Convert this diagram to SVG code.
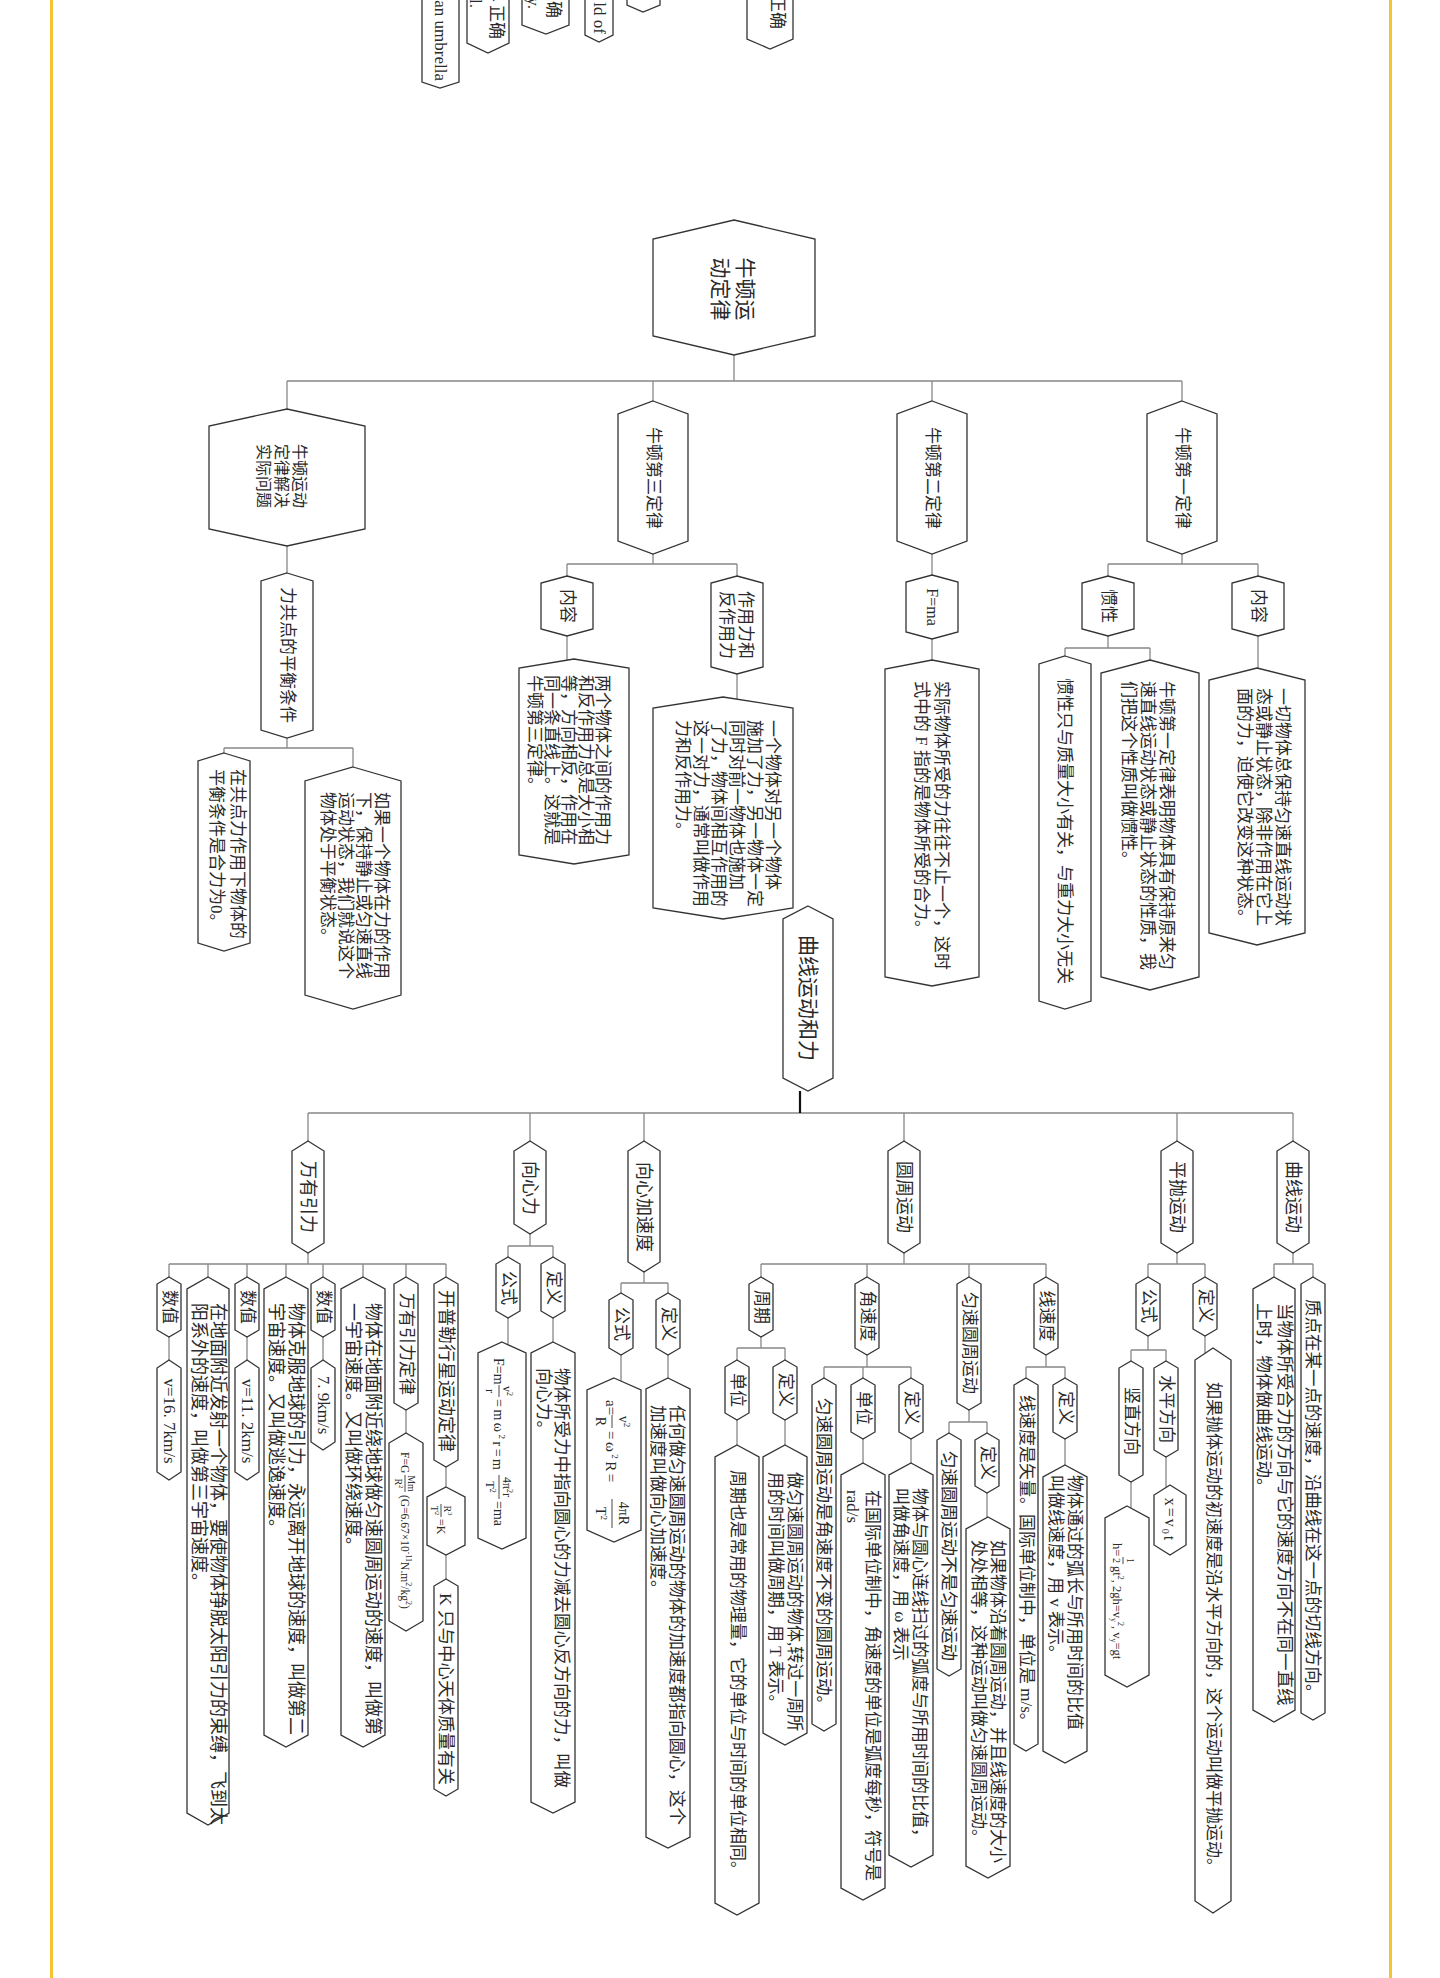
<svg xmlns="http://www.w3.org/2000/svg" width="1440" height="1978" viewBox="0 0 1440 1978">
<style>
.n{fill:#fff;stroke:#333;stroke-width:1.3}
.c{fill:none;stroke:#888;stroke-width:1.3}
.t{font-family:"Liberation Serif","Noto Sans CJK SC",serif;fill:#2a2a2a;dominant-baseline:central}
.m{text-anchor:middle}
.e{text-anchor:end}
.bar{stroke:#333;stroke-width:0.9}
</style>
<rect x="0" y="0" width="1440" height="1978" fill="#fff"/>
<rect x="50" y="0" width="3" height="1978" fill="#f5c430"/>
<rect x="1389" y="0" width="3" height="1978" fill="#f5c430"/>

<g id="fragments">
<polygon class="n" points="422,-10 459,-10 459,82 440,88 422,82"/>
<text class="t e" font-size="17" transform="translate(440,81) rotate(90)">an umbrella</text>
<polygon class="n" points="467,-10 509,-10 509,43 488,53 467,43"/>
<text class="t e" font-size="17" transform="translate(496,39) rotate(90)">→正确</text>
<text class="t e" font-size="17" transform="translate(475,8) rotate(90)">rl.</text>
<polygon class="n" points="522,-10 569,-10 569,25 546,34 522,25"/>
<text class="t e" font-size="17" transform="translate(553,18) rotate(90)">确</text>
<text class="t e" font-size="17" transform="translate(533,9) rotate(90)">y.</text>
<polygon class="n" points="585,-10 613,-10 613,35 599,42 585,35"/>
<text class="t e" font-size="17" transform="translate(599,34) rotate(90)">ld of</text>
<polygon class="n" points="627,-10 660,-10 660,5 643,12 627,5"/>
<polygon class="n" points="747,-10 793,-10 793,39 770,49 747,39"/>
<text class="t e" font-size="17" transform="translate(777,29) rotate(90)">正确</text>
</g>

<g id="connectors">
<path class="c" d="M734,355V381 M287,381H1182 M287,381V409 M653,381V401 M932,381V401 M1182,381V401
M287,546V573 M287,738V748 M224,748H353 M224,748V753 M353,748V767
M653,554V564 M567,564H737 M567,564V576 M737,564V576 M567,636V660 M737,674V699
M932,554V575 M932,639V660
M1182,554V564 M1108,564H1258 M1108,564V576 M1258,564V576 M1108,636V648 M1065,648H1150 M1065,648V656 M1150,648V660 M1258,636V668
M308,1113H1293 M308,1113V1141 M530,1113V1141 M644,1113V1141 M904,1113V1141 M1177,1113V1141 M1293,1113V1141
M308,1253V1264 M169,1264H446 M169,1264V1277 M208,1264V1277 M247,1264V1277 M286,1264V1277 M323,1264V1277 M363,1264V1277 M406,1264V1277 M446,1264V1277
M169,1337V1360 M247,1337V1360 M323,1337V1360 M406,1410V1433 M446,1467V1487 M446,1555V1579
M530,1234V1246 M508,1246H553 M508,1246V1257 M553,1246V1257 M508,1318V1345 M553,1318V1342
M644,1272V1283 M621,1283H668 M621,1283V1293 M668,1283V1293 M621,1355V1381 M668,1355V1378
M904,1253V1264 M761,1264H1046 M761,1264V1277 M867,1264V1277 M969,1264V1277 M1046,1264V1277
M761,1337V1348 M737,1348H785 M737,1348V1360 M785,1348V1360 M737,1420V1445 M785,1420V1445
M867,1355V1367 M824,1367H911 M824,1367V1378 M863,1367V1378 M911,1367V1378 M863,1439V1463 M911,1439V1463
M969,1410V1422 M949,1422H987 M949,1422V1433 M987,1422V1433 M987,1493V1517
M1046,1355V1367 M1026,1367H1065 M1026,1367V1378 M1065,1367V1378 M1065,1439V1465
M1177,1253V1264 M1148,1264H1205 M1148,1264V1277 M1205,1264V1277 M1205,1336V1360 M1148,1336V1350 M1131,1350H1166 M1131,1350V1361 M1166,1350V1361 M1166,1457V1487 M1131,1482V1508
M1293,1253V1264 M1274,1264H1313 M1274,1264V1277 M1313,1264V1277"/>
<path d="M800,1091V1113" stroke="#111" stroke-width="2.2" fill="none"/>
</g>

<g id="n-root"><polygon class="n" points="734,220 815,239 815,336 734,355 653,336 653,239"/>
<text class="t m" font-size="21" transform="translate(745,289) rotate(90)"><tspan x="0" y="0">牛顿运</tspan><tspan x="0" y="25">动定律</tspan></text></g>

<g id="n-shiji"><polygon class="n" points="287,409 365,426 365,529 287,546 209,529 209,426"/>
<text class="t m" font-size="16" transform="translate(300,476) rotate(90)"><tspan x="0" y="0">牛顿运动</tspan><tspan x="0" y="18">定律解决</tspan><tspan x="0" y="36">实际问题</tspan></text></g>
<g id="n-ligong"><polygon class="n" points="287,573 313,581 313,730 287,738 261,730 261,581"/>
<text class="t m" font-size="17" transform="translate(287,655) rotate(90)">力共点的平衡条件</text></g>
<g id="n-a"><polygon class="n" points="224,753 250,761 250,943 224,951 198,943 198,761"/>
<text class="t" font-size="17" transform="translate(238,769) rotate(90)"><tspan x="0" y="0">在共点力作用下物体的</tspan><tspan x="0" y="21">平衡条件是合力为0。</tspan></text></g>
<g id="n-b"><polygon class="n" points="353,767 401,781 401,995 353,1009 305,995 305,781"/>
<text class="t" font-size="17" transform="translate(382,792) rotate(90)"><tspan x="0" y="0">如果一个物体在力的作用</tspan><tspan x="0" y="18">下，保持静止或匀速直线</tspan><tspan x="0" y="36">运动状态，我们就说这个</tspan><tspan x="0" y="54">物体处于平衡状态。</tspan></text></g>

<g id="n-third"><polygon class="n" points="653,401 688,414 688,541 653,554 618,541 618,414"/>
<text class="t m" font-size="17" transform="translate(653,478) rotate(90)">牛顿第三定律</text></g>
<g id="n-third-nr"><polygon class="n" points="567,576 593,583 593,629 567,636 541,629 541,583"/>
<text class="t m" font-size="17" transform="translate(567,606) rotate(90)">内容</text></g>
<g id="n-third-text"><polygon class="n" points="574,659 629,668 629,855 574,864 519,855 519,668"/>
<text class="t" font-size="17" transform="translate(603,675) rotate(90)"><tspan x="0" y="0">两个物体之间的作用力</tspan><tspan x="0" y="17">和反作用力总是大小相</tspan><tspan x="0" y="34">等，方向相反，作用在</tspan><tspan x="0" y="51">同一条直线上。这就是</tspan><tspan x="0" y="68">牛顿第三定律。</tspan></text></g>
<g id="n-zuoyong"><polygon class="n" points="737,576 763,583 763,667 737,674 711,667 711,583"/>
<text class="t m" font-size="17" transform="translate(746,625) rotate(90)"><tspan x="0" y="0">作用力和</tspan><tspan x="0" y="19">反作用力</tspan></text></g>
<g id="n-zuoyong-text"><polygon class="n" points="723,697 793,708 793,908 723,919 653,908 653,708"/>
<text class="t" font-size="17" transform="translate(773,720) rotate(90)"><tspan x="0" y="0">一个物体对另一个物体</tspan><tspan x="0" y="18">施加了力，另一物体一定</tspan><tspan x="0" y="36">同时对前一物体也施加</tspan><tspan x="0" y="54">了力，物体间相互作用的</tspan><tspan x="0" y="72">这一对力，通常叫做作用</tspan><tspan x="0" y="90">力和反作用力。</tspan></text></g>

<g id="n-second"><polygon class="n" points="932,401 967,414 967,541 932,554 897,541 897,414"/>
<text class="t m" font-size="17" transform="translate(932,478) rotate(90)">牛顿第二定律</text></g>
<g id="n-fma"><polygon class="n" points="932,575 958,582 958,632 932,639 906,632 906,582"/>
<text class="t m" font-size="16" transform="translate(932,607) rotate(90)">F=ma</text></g>
<g id="n-second-text"><polygon class="n" points="932,660 979,669 979,977 932,986 885,977 885,669"/>
<text class="t" font-size="17" transform="translate(942,681) rotate(90)"><tspan x="0" y="0">实际物体所受的力往往不止一个，这时</tspan><tspan x="0" y="20">式中的 F 指的是物体所受的合力。</tspan></text></g>

<g id="n-quxianli"><polygon class="n" points="808,906 833,919 833,1078 808,1091 783,1078 783,919"/>
<text class="t m" font-size="21" transform="translate(808,998) rotate(90)">曲线运动和力</text></g>

<g id="n-first"><polygon class="n" points="1182,401 1217,414 1217,541 1182,554 1147,541 1147,414"/>
<text class="t m" font-size="17" transform="translate(1182,478) rotate(90)">牛顿第一定律</text></g>
<g id="n-guanxing"><polygon class="n" points="1108,576 1134,583 1134,629 1108,636 1082,629 1082,583"/>
<text class="t m" font-size="17" transform="translate(1108,606) rotate(90)">惯性</text></g>
<g id="n-first-nr"><polygon class="n" points="1258,576 1284,583 1284,629 1258,636 1232,629 1232,583"/>
<text class="t m" font-size="17" transform="translate(1258,606) rotate(90)">内容</text></g>
<g id="n-guanxing-a"><polygon class="n" points="1065,656 1091,664 1091,1001 1065,1009 1039,1001 1039,664"/>
<text class="t" font-size="17" transform="translate(1064,678) rotate(90)">惯性只与质量大小有关，与重力大小无关</text></g>
<g id="n-guanxing-b"><polygon class="n" points="1150,660 1199,673 1199,977 1150,990 1101,977 1101,673"/>
<text class="t" font-size="17" transform="translate(1167,681) rotate(90)"><tspan x="0" y="0">牛顿第一定律表明物体具有保持原来匀</tspan><tspan x="0" y="19">速直线运动状态或静止状态的性质，我</tspan><tspan x="0" y="38">们把这个性质叫做惯性。</tspan></text></g>
<g id="n-first-text"><polygon class="n" points="1257,668 1305,680 1305,933 1257,945 1209,933 1209,680"/>
<text class="t" font-size="17" transform="translate(1283,688) rotate(90)"><tspan x="0" y="0">一切物体总保持匀速直线运动状</tspan><tspan x="0" y="19">态或静止状态，除非作用在它上</tspan><tspan x="0" y="38">面的力，迫使它改变这种状态。</tspan></text></g>

<g id="n-wanyou"><polygon class="n" points="308,1141 324,1151 324,1243 308,1253 292,1243 292,1151"/>
<text class="t m" font-size="18" transform="translate(308,1197) rotate(90)">万有引力</text></g>
<g id="n-sz1"><polygon class="n" points="169,1277 181,1284 181,1330 169,1337 157,1330 157,1284"/>
<text class="t m" font-size="17" transform="translate(169,1307) rotate(90)">数值</text></g>
<g id="n-v3"><polygon class="n" points="169,1360 181,1368 181,1472 169,1480 157,1472 157,1368"/>
<text class="t m" font-size="17" transform="translate(169,1421) rotate(90)">v=16. 7km/s</text></g>
<g id="n-third-cosmic"><polygon class="n" points="208,1277 229,1289 229,1813 208,1825 187,1813 187,1289"/>
<text class="t" font-size="18" transform="translate(218,1303) rotate(90)"><tspan x="0" y="0">在地面附近发射一个物体，要使物体挣脱太阳引力的束缚，飞到太</tspan><tspan x="0" y="19">阳系外的速度，叫做第三宇宙速度。</tspan></text></g>
<g id="n-sz2"><polygon class="n" points="247,1277 259,1284 259,1330 247,1337 235,1330 235,1284"/>
<text class="t m" font-size="17" transform="translate(247,1307) rotate(90)">数值</text></g>
<g id="n-v2"><polygon class="n" points="247,1360 259,1368 259,1472 247,1480 235,1472 235,1368"/>
<text class="t m" font-size="17" transform="translate(247,1421) rotate(90)">v=11. 2km/s</text></g>
<g id="n-second-cosmic"><polygon class="n" points="286,1277 308,1289 308,1735 286,1747 264,1735 264,1289"/>
<text class="t" font-size="18" transform="translate(296,1303) rotate(90)"><tspan x="0" y="0">物体克服地球的引力，永远离开地球的速度，叫做第二</tspan><tspan x="0" y="20">宇宙速度。又叫做逃逸速度。</tspan></text></g>
<g id="n-sz3"><polygon class="n" points="323,1277 335,1284 335,1330 323,1337 311,1330 311,1284"/>
<text class="t m" font-size="17" transform="translate(323,1307) rotate(90)">数值</text></g>
<g id="n-v1"><polygon class="n" points="323,1360 335,1368 335,1442 323,1450 311,1442 311,1368"/>
<text class="t m" font-size="17" transform="translate(323,1405) rotate(90)">7. 9km/s</text></g>
<g id="n-first-cosmic"><polygon class="n" points="363,1277 385,1289 385,1735 363,1747 341,1735 341,1289"/>
<text class="t" font-size="18" transform="translate(373,1303) rotate(90)"><tspan x="0" y="0">物体在地面附近绕地球做匀速圆周运动的速度，叫做第</tspan><tspan x="0" y="20">一宇宙速度。又叫做环绕速度。</tspan></text></g>
<g id="n-gravlaw"><polygon class="n" points="406,1277 418,1284 418,1403 406,1410 394,1403 394,1284"/>
<text class="t m" font-size="17" transform="translate(406,1344) rotate(90)">万有引力定律</text></g>
<g id="n-gravf"><polygon class="n" points="406,1433 423,1443 423,1621 406,1631 389,1621 389,1443"/>
<g transform="translate(405,1452) rotate(90)">
<text class="t" font-size="11.5" x="0" y="0">F=G</text>
<line class="bar" x1="23" y1="0" x2="40" y2="0"/>
<text class="t m" font-size="10" x="31.5" y="-6">Mm</text>
<text class="t m" font-size="10" x="31.5" y="7">R<tspan font-size="7" dy="-3">2</tspan></text>
<text class="t" font-size="11.5" x="43" y="0">(G=6.67×10<tspan font-size="8" dy="-4">-11</tspan><tspan dy="4">N.m</tspan><tspan font-size="8" dy="-4">2</tspan><tspan dy="4">/kg</tspan><tspan font-size="8" dy="-4">2</tspan><tspan dy="4">)</tspan></text>
</g></g>
<g id="n-kepler"><polygon class="n" points="446,1277 458,1284 458,1460 446,1467 434,1460 434,1284"/>
<text class="t m" font-size="18" transform="translate(446,1371) rotate(90)">开普勒行星运动定律</text></g>
<g id="n-keplerf"><polygon class="n" points="446,1487 465,1497 465,1545 446,1555 427,1545 427,1497"/>
<g transform="translate(441,1504) rotate(90)">
<line class="bar" x1="0" y1="0" x2="13" y2="0"/>
<text class="t m" font-size="10" x="6.5" y="-6">R<tspan font-size="7" dy="-3">3</tspan></text>
<text class="t m" font-size="10" x="6.5" y="7">T<tspan font-size="7" dy="-3">2</tspan></text>
<text class="t" font-size="12" x="15" y="0">=K</text>
</g></g>
<g id="n-keplerk"><polygon class="n" points="446,1579 458,1586 458,1789 446,1796 434,1789 434,1586"/>
<text class="t m" font-size="17.5" transform="translate(446,1689) rotate(90)">K 只与中心天体质量有关</text></g>

<g id="n-xinxinli"><polygon class="n" points="530,1141 546,1151 546,1224 530,1234 514,1224 514,1151"/>
<text class="t m" font-size="18" transform="translate(530,1188) rotate(90)">向心力</text></g>
<g id="n-xl-gs"><polygon class="n" points="508,1257 520,1264 520,1311 508,1318 496,1311 496,1264"/>
<text class="t m" font-size="17" transform="translate(508,1288) rotate(90)">公式</text></g>
<g id="n-xl-dy"><polygon class="n" points="553,1257 565,1264 565,1311 553,1318 541,1311 541,1264"/>
<text class="t m" font-size="17" transform="translate(553,1288) rotate(90)">定义</text></g>
<g id="n-xl-f"><polygon class="n" points="502,1342 526,1353 526,1538 502,1549 478,1538 478,1353"/>
<g transform="translate(500,1358) rotate(90)">
<text class="t" font-size="14" x="0" y="2">F=m</text>
<line class="bar" x1="27" y1="1" x2="39" y2="1"/>
<text class="t m" font-size="12" x="33" y="-7">v<tspan font-size="8" dy="-3">2</tspan></text>
<text class="t m" font-size="12" x="33" y="10">r</text>
<text class="t" font-size="14" x="41" y="2" letter-spacing="2.5">=mω<tspan font-size="9" dy="-4">2</tspan><tspan dy="4">r=m</tspan></text>
<line class="bar" x1="117" y1="1" x2="141" y2="1"/>
<text class="t m" font-size="12" x="129" y="-7">4π<tspan font-size="8" dy="-3">2</tspan><tspan dy="3">r</tspan></text>
<text class="t m" font-size="12" x="129" y="10">T<tspan font-size="8" dy="-3">2</tspan></text>
<text class="t" font-size="14" x="143" y="2">=ma</text>
</g></g>
<g id="n-xl-text"><polygon class="n" points="553,1342 575,1353 575,1802 553,1813 531,1802 531,1353"/>
<text class="t" font-size="17.5" transform="translate(562,1368) rotate(90)"><tspan x="0" y="0">物体所受力中指向圆心的力减去圆心反方向的力，叫做</tspan><tspan x="0" y="18">向心力。</tspan></text></g>

<g id="n-xinjia"><polygon class="n" points="644,1141 660,1151 660,1262 644,1272 628,1262 628,1151"/>
<text class="t m" font-size="18" transform="translate(644,1207) rotate(90)">向心加速度</text></g>
<g id="n-xj-gs"><polygon class="n" points="621,1293 633,1300 633,1348 621,1355 609,1348 609,1300"/>
<text class="t m" font-size="17" transform="translate(621,1324) rotate(90)">公式</text></g>
<g id="n-xj-dy"><polygon class="n" points="668,1293 680,1300 680,1348 668,1355 656,1348 656,1300"/>
<text class="t m" font-size="17" transform="translate(668,1324) rotate(90)">定义</text></g>
<g id="n-xj-f"><polygon class="n" points="614,1378 641,1390 641,1530 614,1542 587,1530 587,1390"/>
<g transform="translate(612,1400) rotate(90)">
<text class="t" font-size="15" x="0" y="1">a=</text>
<line class="bar" x1="15" y1="0" x2="28" y2="0"/>
<text class="t m" font-size="14" x="21.5" y="-11">v<tspan font-size="9" dy="-4">2</tspan></text>
<text class="t m" font-size="14" x="21.5" y="12">R</text>
<text class="t" font-size="15" x="31" y="1" letter-spacing="2.5">=ω<tspan font-size="9" dy="-4">2</tspan><tspan dy="4">R=</tspan></text>
<line class="bar" x1="99" y1="0" x2="128" y2="0"/>
<text class="t m" font-size="14" x="113.5" y="-11">4πR</text>
<text class="t m" font-size="14" x="113.5" y="12">T<tspan font-size="9" dy="-4">2</tspan></text>
</g></g>
<g id="n-xj-text"><polygon class="n" points="668,1378 690,1389 690,1837 668,1848 646,1837 646,1389"/>
<text class="t" font-size="17.5" transform="translate(677,1405) rotate(90)"><tspan x="0" y="0">任何做匀速圆周运动的物体的加速度都指向圆心，这个</tspan><tspan x="0" y="19">加速度叫做向心加速度。</tspan></text></g>

<g id="n-yuanzhou"><polygon class="n" points="904,1141 920,1151 920,1243 904,1253 888,1243 888,1151"/>
<text class="t m" font-size="18" transform="translate(904,1197) rotate(90)">圆周运动</text></g>
<g id="n-zhouqi"><polygon class="n" points="761,1277 773,1284 773,1330 761,1337 749,1330 749,1284"/>
<text class="t m" font-size="17" transform="translate(761,1307) rotate(90)">周期</text></g>
<g id="n-zq-dw"><polygon class="n" points="737,1360 749,1367 749,1413 737,1420 725,1413 725,1367"/>
<text class="t m" font-size="17" transform="translate(737,1390) rotate(90)">单位</text></g>
<g id="n-zq-dy"><polygon class="n" points="785,1360 797,1367 797,1413 785,1420 773,1413 773,1367"/>
<text class="t m" font-size="17" transform="translate(785,1390) rotate(90)">定义</text></g>
<g id="n-zq-dw-text"><polygon class="n" points="737,1445 759,1457 759,1903 737,1915 715,1903 715,1457"/>
<text class="t" font-size="17" transform="translate(737,1470) rotate(90)">周期也是常用的物理量，它的单位与时间的单位相同。</text></g>
<g id="n-zq-dy-text"><polygon class="n" points="785,1445 807,1457 807,1733 785,1745 763,1733 763,1457"/>
<text class="t" font-size="17" transform="translate(795,1472) rotate(90)"><tspan x="0" y="0">做匀速圆周运动的物体,转过一周所</tspan><tspan x="0" y="19">用的时间叫做周期，用 T 表示。</tspan></text></g>
<g id="n-jiaosudu"><polygon class="n" points="867,1277 879,1284 879,1348 867,1355 855,1348 855,1284"/>
<text class="t m" font-size="17" transform="translate(867,1316) rotate(90)">角速度</text></g>
<g id="n-js-a"><polygon class="n" points="824,1378 836,1385 836,1724 824,1731 812,1724 812,1385"/>
<text class="t" font-size="17.5" transform="translate(824,1398) rotate(90)">匀速圆周运动是角速度不变的圆周运动。</text></g>
<g id="n-js-dw"><polygon class="n" points="863,1378 875,1385 875,1432 863,1439 851,1432 851,1385"/>
<text class="t m" font-size="17" transform="translate(863,1408) rotate(90)">单位</text></g>
<g id="n-js-dw-text"><polygon class="n" points="863,1463 885,1475 885,1888 863,1900 841,1888 841,1475"/>
<text class="t" font-size="17" transform="translate(873,1490) rotate(90)"><tspan x="0" y="0">在国际单位制中，角速度的单位是弧度每秒，符号是</tspan><tspan x="0" y="20">rad/s</tspan></text></g>
<g id="n-js-dy"><polygon class="n" points="911,1378 923,1385 923,1432 911,1439 899,1432 899,1385"/>
<text class="t m" font-size="17" transform="translate(911,1408) rotate(90)">定义</text></g>
<g id="n-js-dy-text"><polygon class="n" points="911,1463 933,1475 933,1855 911,1867 889,1855 889,1475"/>
<text class="t" font-size="17" transform="translate(920,1488) rotate(90)"><tspan x="0" y="0">物体与圆心连线扫过的弧度与所用时间的比值，</tspan><tspan x="0" y="19">叫做角速度，用 ω 表示</tspan></text></g>
<g id="n-yunsu"><polygon class="n" points="969,1277 981,1284 981,1403 969,1410 957,1403 957,1284"/>
<text class="t m" font-size="17" transform="translate(969,1343) rotate(90)">匀速圆周运动</text></g>
<g id="n-ys-a"><polygon class="n" points="949,1433 961,1440 961,1669 949,1676 937,1669 937,1440"/>
<text class="t m" font-size="17.5" transform="translate(949,1556) rotate(90)">匀速圆周运动不是匀速运动</text></g>
<g id="n-ys-dy"><polygon class="n" points="987,1433 999,1440 999,1486 987,1493 975,1486 975,1440"/>
<text class="t m" font-size="17" transform="translate(987,1463) rotate(90)">定义</text></g>
<g id="n-ys-dy-text"><polygon class="n" points="988,1517 1010,1529 1010,1866 988,1878 966,1866 966,1529"/>
<text class="t" font-size="17" transform="translate(998,1540) rotate(90)"><tspan x="0" y="0">如果物体沿着圆周运动，并且线速度的大小</tspan><tspan x="0" y="19">处处相等，这种运动叫做匀速圆周运动。</tspan></text></g>
<g id="n-xiansudu"><polygon class="n" points="1046,1277 1058,1284 1058,1348 1046,1355 1034,1348 1034,1284"/>
<text class="t m" font-size="17" transform="translate(1046,1316) rotate(90)">线速度</text></g>
<g id="n-xs-a"><polygon class="n" points="1026,1378 1038,1385 1038,1744 1026,1751 1014,1744 1014,1385"/>
<text class="t" font-size="17" transform="translate(1026,1395) rotate(90)">线速度是矢量。国际单位制中，单位是 m/s。</text></g>
<g id="n-xs-dy"><polygon class="n" points="1065,1378 1077,1385 1077,1432 1065,1439 1053,1432 1053,1385"/>
<text class="t m" font-size="17" transform="translate(1065,1408) rotate(90)">定义</text></g>
<g id="n-xs-dy-text"><polygon class="n" points="1065,1465 1087,1477 1087,1751 1065,1763 1043,1751 1043,1477"/>
<text class="t" font-size="17" transform="translate(1075,1475) rotate(90)"><tspan x="0" y="0">物体通过的弧长与所用时间的比值</tspan><tspan x="0" y="19">叫做线速度，用 v 表示。</tspan></text></g>

<g id="n-pingpao"><polygon class="n" points="1177,1141 1193,1151 1193,1243 1177,1253 1161,1243 1161,1151"/>
<text class="t m" font-size="18" transform="translate(1177,1197) rotate(90)">平抛运动</text></g>
<g id="n-pp-gs"><polygon class="n" points="1148,1277 1160,1284 1160,1329 1148,1336 1136,1329 1136,1284"/>
<text class="t m" font-size="17" transform="translate(1148,1306) rotate(90)">公式</text></g>
<g id="n-pp-dy"><polygon class="n" points="1205,1277 1217,1284 1217,1329 1205,1336 1193,1329 1193,1284"/>
<text class="t m" font-size="17" transform="translate(1205,1306) rotate(90)">定义</text></g>
<g id="n-pp-dy-text"><polygon class="n" points="1213,1348 1231,1360 1231,1901 1213,1913 1195,1901 1195,1360"/>
<text class="t" font-size="17" transform="translate(1213,1382) rotate(90)">如果抛体运动的初速度是沿水平方向的，这个运动叫做平抛运动。</text></g>
<g id="n-pp-sz"><polygon class="n" points="1131,1361 1143,1368 1143,1475 1131,1482 1119,1475 1119,1368"/>
<text class="t m" font-size="17" transform="translate(1131,1421) rotate(90)">竖直方向</text></g>
<g id="n-pp-sp"><polygon class="n" points="1166,1361 1178,1368 1178,1450 1166,1457 1154,1450 1154,1368"/>
<text class="t m" font-size="17" transform="translate(1166,1409) rotate(90)">水平方向</text></g>
<g id="n-pp-x"><polygon class="n" points="1170,1485 1186,1495 1186,1545 1170,1555 1154,1545 1154,1495"/>
<text class="t m" font-size="16" letter-spacing="2" transform="translate(1170,1520) rotate(90)">x=v<tspan font-size="10" dy="4">0</tspan><tspan dy="-4">t</tspan></text></g>
<g id="n-pp-h"><polygon class="n" points="1127,1506 1149,1518 1149,1675 1127,1687 1105,1675 1105,1518"/>
<g transform="translate(1117,1543) rotate(90)">
<text class="t" font-size="12.5" x="0" y="0">h=</text>
<line class="bar" x1="14" y1="-6" x2="21" y2="-6"/>
<text class="t m" font-size="10" x="17.5" y="-13">1</text>
<text class="t m" font-size="10" x="17.5" y="1">2</text>
<text class="t" font-size="12.5" x="23" y="0">gt<tspan font-size="8" dy="-4">2</tspan><tspan dy="4">, 2gh=v</tspan><tspan font-size="8" dy="3">y</tspan><tspan font-size="8" dy="-7">2</tspan><tspan dy="4">, v</tspan><tspan font-size="8" dy="3">y</tspan><tspan dy="-3">=gt</tspan></text>
</g></g>

<g id="n-quxian"><polygon class="n" points="1293,1141 1309,1151 1309,1243 1293,1253 1277,1243 1277,1151"/>
<text class="t m" font-size="18" transform="translate(1293,1197) rotate(90)">曲线运动</text></g>
<g id="n-qx-a"><polygon class="n" points="1274,1277 1295,1289 1295,1710 1274,1722 1253,1710 1253,1289"/>
<text class="t" font-size="17.5" transform="translate(1285,1303) rotate(90)"><tspan x="0" y="0">当物体所受合力的方向与它的速度方向不在同一直线</tspan><tspan x="0" y="21">上时，物体做曲线运动。</tspan></text></g>
<g id="n-qx-b"><polygon class="n" points="1313,1277 1325,1284 1325,1713 1313,1720 1301,1713 1301,1284"/>
<text class="t" font-size="17.5" transform="translate(1313,1299) rotate(90)">质点在某一点的速度，沿曲线在这一点的切线方向。</text></g>
</svg>
